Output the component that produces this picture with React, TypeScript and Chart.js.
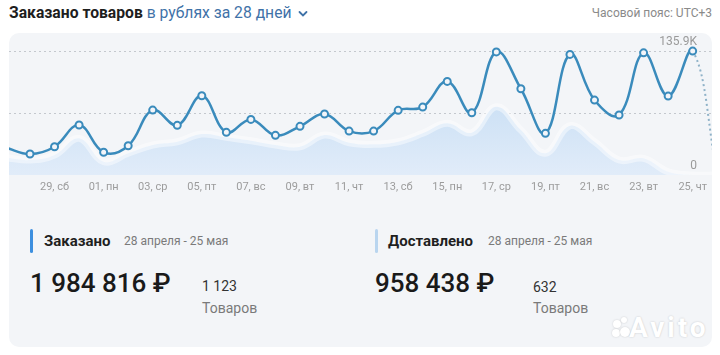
import React, { useEffect, useRef } from 'react';
import { Chart, registerables } from 'chart.js';

Chart.register(...registerables);

// 27 Apr .. 26 May (first and last fall just outside the visible range)
const dayLabels = [
  '27, чт', '28, пт', '29, сб', '30, вс', '01, пн', '02, вт', '03, ср', '04, чт', '05, пт', '06, сб',
  '07, вс', '08, пн', '09, вт', '10, ср', '11, чт', '12, пт', '13, сб', '14, вс', '15, пн', '16, вт',
  '17, ср', '18, чт', '19, пт', '20, сб', '21, вс', '22, пн', '23, вт', '24, ср', '25, чт', '26, пт',
];

// Ordered, thousands of rubles
const orderedK = [
  30.1, 23.0, 31.0, 54.8, 24.9, 32.1, 71.2, 54.5, 86.9, 46.8,
  61.0, 43.5, 53.4, 66.9, 48.2, 48.2, 70.9, 74.5, 102.7, 68.3,
  135.0, 94.6, 45.7, 132.3, 82.2, 65.8, 134.0, 86.6, 135.9, 0,
];

// Delivered, thousands of rubles
const deliveredK = [
  19.0, 16.4, 21.9, 40.2, 14.6, 23.8, 32.9, 36.5, 44.9, 41.3,
  37.6, 32.9, 31.0, 43.8, 35.4, 33.6, 36.5, 45.7, 56.7, 46.4,
  74.9, 49.3, 23.8, 54.0, 36.5, 16.4, 18.3, 3.6, 0, 0,
];

const xTickIndices = [2, 4, 6, 8, 10, 12, 14, 16, 18, 20, 22, 24, 26, 28];
const yTickValues = [0, 67.95, 135.9];
const yTickLabels = ['0', '', '135.9K'];

const LINE = '#3a8bbc';
const FONT = 'Roboto, "Noto Sans", Arial, sans-serif';

export default function App() {
  const ref = useRef<HTMLCanvasElement>(null);

  useEffect(() => {
    document.body.style.margin = '0';
    const canvas = ref.current;
    if (!canvas) return;
    Chart.defaults.font.family = FONT;
    const last = orderedK.length - 1;
    const chart = new Chart(canvas, {
      type: 'line',
      data: {
        datasets: [
          {
            label: 'Заказано',
            data: orderedK.map((v, i) => ({ x: i, y: v })),
            borderColor: LINE,
            borderWidth: 2.5,
            tension: 0.4,
            fill: false,
            clip: 0,
            pointRadius: (c: any) => (c.dataIndex === 0 || c.dataIndex === last ? 0 : 3.5),
            pointBorderWidth: 2,
            pointBackgroundColor: '#f3f5f9',
            pointBorderColor: LINE,
            segment: {
              borderDash: (c: any) => (c.p1DataIndex === last ? [2, 3] : undefined),
              borderColor: (c: any) => (c.p1DataIndex === last ? '#8fb2c8' : undefined),
              borderWidth: (c: any) => (c.p1DataIndex === last ? 2 : undefined),
            },
          } as any,
          {
            label: 'Доставлено',
            data: deliveredK.map((v, i) => ({ x: i, y: v })),
            borderColor: 'rgba(255,255,255,0.45)',
            borderWidth: 7,
            backgroundColor: (c: any) => {
              const area = c.chart.chartArea;
              if (!area) return '#d6e7f7';
              const g = c.chart.ctx.createLinearGradient(0, area.top + 60, 0, area.bottom);
              g.addColorStop(0, '#cbe0f5');
              g.addColorStop(1, '#e1ecf9');
              return g;
            },
            fill: 'origin',
            tension: 0.4,
            pointRadius: 0,
            clip: 0,
          } as any,
        ],
      },
      options: {
        responsive: false,
        animation: false,
        devicePixelRatio: 1,
        layout: { padding: { top: 8, left: 0, right: 0, bottom: 0 } },
        plugins: { legend: { display: false }, tooltip: { enabled: false } },
        scales: {
          x: {
            type: 'linear',
            min: 0.1444,
            max: 28.787,
            bounds: 'data',
            grid: { display: false, drawTicks: false },
            border: { display: false },
            afterBuildTicks: (s: any) => {
              s.ticks = xTickIndices.map((v) => ({ value: v }));
            },
            afterFit: (s: any) => {
              s.height = 28;
              s.paddingLeft = 0;
              s.paddingRight = 0;
            },
            ticks: {
              autoSkip: false,
              maxRotation: 0,
              padding: 6,
              color: '#9c9c9c',
              font: { size: 11 },
              callback: (v: any) => dayLabels[v as number] ?? '',
            },
          },
          y: {
            position: 'right',
            min: 0,
            max: 147,
            afterBuildTicks: (s: any) => {
              s.ticks = yTickValues.map((v) => ({ value: v }));
            },
            afterFit: (s: any) => {
              s.width = 0;
              s.paddingTop = 0;
              s.paddingBottom = 0;
            },
            grid: {
              drawTicks: false,
              lineWidth: 1,
              color: (c: any) => (c.tick && c.tick.value === 0 ? 'rgba(0,0,0,0)' : '#c4c8ce'),
            },
            border: { display: false, dash: [2, 3] },
            ticks: {
              mirror: true,
              padding: -15,
              labelOffset: -9,
              color: '#9a9a9a',
              font: { size: 12 },
              callback: (v: any) => {
                const i = yTickValues.indexOf(v as number);
                return i >= 0 ? yTickLabels[i] : '';
              },
            },
          },
        },
      } as any,
    });
    return () => chart.destroy();
  }, []);

  const abs = (s: React.CSSProperties): React.CSSProperties => ({
    position: 'absolute',
    whiteSpace: 'nowrap',
    ...s,
  });

  return (
    <div
      style={{
        position: 'fixed',
        left: 0,
        top: 0,
        width: 720,
        height: 355,
        background: '#ffffff',
        overflow: 'hidden',
        fontFamily: FONT,
      }}
    >
      <div style={abs({ left: 9, top: 4, fontSize: 15.7, lineHeight: '18px' })}>
        <span style={{ fontWeight: 700, color: '#1e1e1e' }}>Заказано товаров</span>
        <span style={{ color: '#3f72a8' }}> в рублях за 28 дней</span>
        <svg width="10" height="8" viewBox="0 0 10 8" style={{ marginLeft: 6, verticalAlign: 'middle' }}>
          <path d="M1.5 2 L5 5.5 L8.5 2" stroke="#3f72a8" strokeWidth="1.8" fill="none" strokeLinecap="round" />
        </svg>
      </div>
      <div style={abs({ right: 8, top: 6, fontSize: 12, lineHeight: '14px', color: '#8a8a8a' })}>
        Часовой пояс: UTC+3
      </div>

      <div
        style={abs({ left: 9, top: 33, width: 703, height: 314, background: '#f3f5f8', borderRadius: 10 })}
      />
      <canvas
        ref={ref}
        width={703}
        height={170}
        style={{ position: 'absolute', left: 9, top: 33, width: 703, height: 170 }}
      />

      {/* Ordered */}
      <div style={abs({ left: 30, top: 229, width: 3, height: 24, background: '#3d8fdf', borderRadius: 2 })} />
      <div style={abs({ left: 44, top: 232, fontSize: 15, lineHeight: '18px', fontWeight: 700, color: '#1f1f1f' })}>
        Заказано
      </div>
      <div style={abs({ left: 124, top: 234, fontSize: 12, lineHeight: '15px', color: '#7a7a7a' })}>
        28 апреля - 25 мая
      </div>
      <div style={abs({ left: 30, top: 268, fontSize: 26, lineHeight: '30px', fontWeight: 500, color: '#1a1a1a' })}>
        1 984 816 ₽
      </div>
      <div style={abs({ left: 202, top: 278, fontSize: 14, lineHeight: '17px', color: '#333333' })}>1 123</div>
      <div style={abs({ left: 202, top: 300, fontSize: 14, lineHeight: '17px', color: '#7a7a7a' })}>Товаров</div>

      {/* Delivered */}
      <div style={abs({ left: 375, top: 229, width: 3, height: 24, background: '#b9d5ef', borderRadius: 2 })} />
      <div style={abs({ left: 388, top: 232, fontSize: 15, lineHeight: '18px', fontWeight: 700, color: '#1f1f1f' })}>
        Доставлено
      </div>
      <div style={abs({ left: 488, top: 234, fontSize: 12, lineHeight: '15px', color: '#7a7a7a' })}>
        28 апреля - 25 мая
      </div>
      <div style={abs({ left: 375, top: 268, fontSize: 26, lineHeight: '30px', fontWeight: 500, color: '#1a1a1a' })}>
        958 438 ₽
      </div>
      <div style={abs({ left: 533, top: 279, fontSize: 14, lineHeight: '17px', color: '#333333' })}>632</div>
      <div style={abs({ left: 533, top: 300, fontSize: 14, lineHeight: '17px', color: '#7a7a7a' })}>Товаров</div>

      {/* Watermark */}
      {[
        [617, 324, 4],
        [624, 320, 3],
        [616, 333, 4],
        [625, 332, 5],
      ].map(([x, y, r], i) => (
        <div
          key={i}
          style={abs({
            left: x - r,
            top: y - r,
            width: r * 2,
            height: r * 2,
            borderRadius: '50%',
            background: '#ffffff',
            boxShadow: '0 0 2px rgba(0,0,0,0.18)',
          })}
        />
      ))}
      <div
        style={abs({
          left: 629,
          top: 312,
          fontSize: 28,
          lineHeight: '32px',
          letterSpacing: 3,
          fontWeight: 700,
          color: '#ffffff',
          textShadow: '0 0 2px rgba(0,0,0,0.2)',
        })}
      >
        Avito
      </div>
    </div>
  );
}
